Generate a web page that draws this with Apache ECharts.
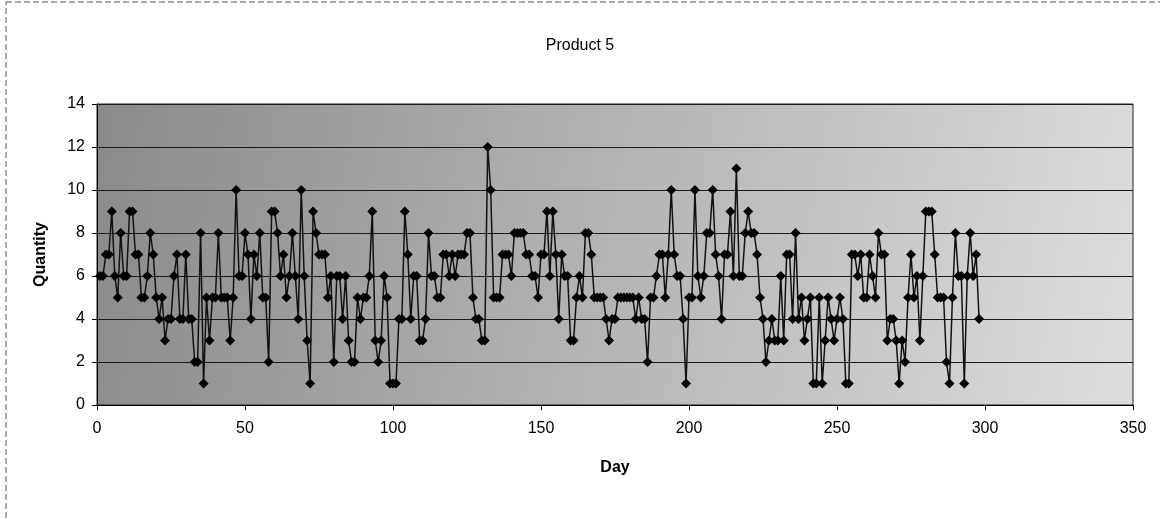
<!DOCTYPE html>
<html>
<head>
<meta charset="utf-8">
<script src="https://cdn.jsdelivr.net/npm/echarts@6/dist/echarts.min.js"></script>
<style>
  html, body { margin: 0; padding: 0; background: #fff; }
  #chart { width: 1160px; height: 519px; }
</style>
</head>
<body>
<div id="chart"></div>
<script>
// quantity sold per day, day 1 .. day 298
var quantity = [
  6,6,7,7,9,6,5,8,6,6, 9,9,7,7,5,5,6,8,7,5,
  4,5,3,4,4,6,7,4,4,7, 4,4,2,2,8,1,5,3,5,5,
  8,5,5,5,3,5,10,6,6,8, 7,4,7,6,8,5,5,2,9,9,
  8,6,7,5,6,8,6,4,10,6, 3,1,9,8,7,7,7,5,6,2,
  6,6,4,6,3,2,2,5,4,5, 5,6,9,3,2,3,6,5,1,1,
  1,4,4,9,7,4,6,6,3,3, 4,8,6,6,5,5,7,7,6,7,
  6,7,7,7,8,8,5,4,4,3, 3,12,10,5,5,5,7,7,7,6,
  8,8,8,8,7,7,6,6,5,7, 7,9,6,9,7,4,7,6,6,3,
  3,5,6,5,8,8,7,5,5,5, 5,4,3,4,4,5,5,5,5,5,
  5,4,5,4,4,2,5,5,6,7, 7,5,7,10,7,6,6,4,1,5,
  5,10,6,5,6,8,8,10,7,6, 4,7,7,9,6,11,6,6,8,9,
  8,8,7,5,4,2,3,4,3,3, 6,3,7,7,4,8,4,5,3,4,
  5,1,1,5,1,3,5,4,3,4, 5,4,1,1,7,7,6,7,5,5,
  7,6,5,8,7,7,3,4,4,3, 1,3,2,5,7,5,6,3,6,9,
  9,9,7,5,5,5,2,1,5,8, 6,6,1,6,8,6,7,4
];
var xTicks = { min: 0, max: 350, step: 50 };
var yTicks = { min: 0, max: 14, step: 2 };

var points = quantity.map(function (q, i) { return [i + 1, q]; });

var chart = echarts.init(document.getElementById('chart'));
var font = 'Liberation Sans, Arial, sans-serif';

chart.setOption({
  backgroundColor: '#ffffff',
  animation: false,
  title: {
    text: 'Product 5',
    left: 'center',
    top: 33,
    textStyle: { fontFamily: font, fontSize: 16, fontWeight: 'normal', color: '#000' }
  },
  graphic: [{
    type: 'rect',
    shape: { x: 6, y: 2, width: 1160, height: 520 },
    style: { fill: 'none', stroke: '#555', lineWidth: 1, lineDash: [6, 3] },
    silent: true
  }],
  grid: {
    left: 97, right: 27, top: 104, bottom: 114,
    show: true,
    borderColor: '#222',
    borderWidth: 1,
    backgroundColor: {
      type: 'linear', x: 0, y: 0, x2: 1, y2: 0.6,
      colorStops: [
        { offset: 0, color: '#8a8a8a' },
        { offset: 0.4, color: '#acacac' },
        { offset: 1, color: '#dcdcdc' }
      ]
    }
  },
  xAxis: {
    type: 'value',
    min: xTicks.min, max: xTicks.max, interval: xTicks.step,
    name: 'Day',
    nameLocation: 'middle',
    nameGap: 55,
    nameTextStyle: { fontFamily: font, fontSize: 16, fontWeight: 'bold', color: '#000' },
    axisLine: { lineStyle: { color: '#000', width: 1 } },
    axisTick: { show: true, length: 5, lineStyle: { color: '#000' } },
    axisLabel: { fontFamily: font, fontSize: 16, color: '#000', margin: 16 },
    splitLine: { show: false }
  },
  yAxis: {
    type: 'value',
    min: yTicks.min, max: yTicks.max, interval: yTicks.step,
    name: 'Quantity',
    nameLocation: 'middle',
    nameGap: 48,
    nameTextStyle: { fontFamily: font, fontSize: 16, fontWeight: 'bold', color: '#000' },
    axisLine: { show: true, lineStyle: { color: '#000', width: 1 } },
    axisTick: { show: true, length: 5, lineStyle: { color: '#000' } },
    axisLabel: { fontFamily: font, fontSize: 16, color: '#000', margin: 12 },
    splitLine: { show: true, lineStyle: { color: '#1a1a1a', width: 1 } }
  },
  series: [{
    type: 'line',
    data: points,
    symbol: 'diamond',
    symbolSize: 10,
    lineStyle: { color: '#111', width: 1.5 },
    itemStyle: { color: '#000' }
  }]
});
</script>
</body>
</html>
